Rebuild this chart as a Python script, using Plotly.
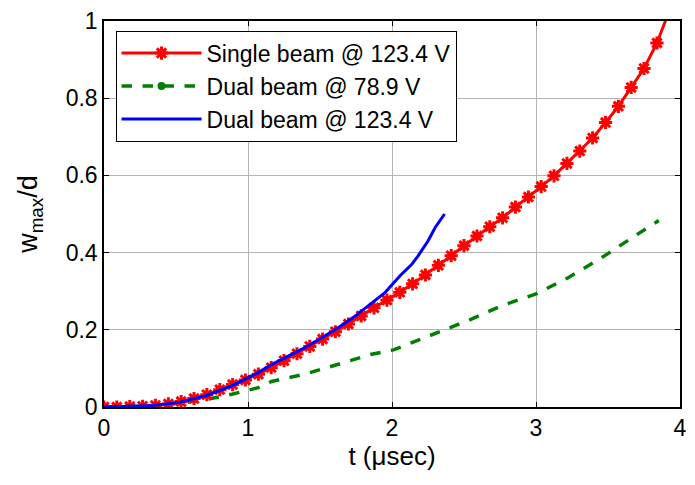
import plotly.graph_objects as go

red_x = [0.000, 0.089, 0.179, 0.268, 0.357, 0.447, 0.536, 0.625, 0.714, 0.804,
         0.893, 0.982, 1.072, 1.161, 1.250, 1.340, 1.429, 1.518, 1.607, 1.697,
         1.786, 1.875, 1.965, 2.054, 2.143, 2.232, 2.322, 2.411, 2.500, 2.590,
         2.679, 2.768, 2.857, 2.947, 3.036, 3.125, 3.215, 3.304, 3.393, 3.483,
         3.572, 3.661, 3.750, 3.840, 3.929]
red_y = [0.000, 0.000, 0.001, 0.002, 0.004, 0.008, 0.014, 0.022, 0.032, 0.045,
         0.058, 0.070, 0.085, 0.102, 0.120, 0.138, 0.157, 0.176, 0.195, 0.215,
         0.236, 0.257, 0.277, 0.297, 0.319, 0.342, 0.367, 0.392, 0.418, 0.443,
         0.467, 0.490, 0.518, 0.544, 0.571, 0.599, 0.631, 0.663, 0.697, 0.737,
         0.779, 0.828, 0.877, 0.943, 1.030]

green_x = [0.0, 0.339, 0.522, 0.705, 0.888, 1.071, 1.163, 1.392, 1.621, 1.850,
           2.010, 2.193, 2.308, 2.536, 2.766, 3.000, 3.223, 3.453, 3.681, 3.853]
green_y = [0.0, 0.004, 0.010, 0.019, 0.033, 0.050, 0.066, 0.085, 0.110, 0.136,
           0.148, 0.174, 0.191, 0.225, 0.263, 0.293, 0.335, 0.386, 0.442, 0.483]

blue_x = [0.0, 0.339, 0.522, 0.705, 0.888, 1.071, 1.163, 1.277, 1.392, 1.506,
          1.621, 1.735, 1.873, 1.953, 2.056, 2.136, 2.180, 2.250, 2.300, 2.365]
blue_y = [0.0, 0.004, 0.012, 0.029, 0.055, 0.089, 0.110, 0.131, 0.153, 0.178,
          0.204, 0.233, 0.272, 0.297, 0.340, 0.369, 0.391, 0.430, 0.465, 0.500]

x_ticks = [0, 1, 2, 3, 4]
y_ticks = [0, 0.2, 0.4, 0.6, 0.8, 1]
y_tick_text = ["0", "0.2", "0.4", "0.6", "0.8", "1"]

FONT = "Liberation Sans, Arial, sans-serif"

fig = go.Figure()

fig.add_trace(go.Scatter(
    x=green_x, y=green_y, mode="lines", showlegend=False,
    line=dict(color="#008000", width=3.5, dash="dash"),
))
fig.add_trace(go.Scatter(
    x=red_x, y=red_y, mode="lines+markers", name="Single beam @ 123.4 V",
    line=dict(color="#ff0000", width=3),
    marker=dict(symbol="asterisk-open", size=11, color="#ff0000",
                line=dict(color="#ff0000", width=3)),
))
fig.add_trace(go.Scatter(
    x=[None], y=[None], mode="lines+markers", name="Dual beam @ 78.9 V",
    line=dict(color="#008000", width=3.5, dash="dash"),
    marker=dict(symbol="circle", size=8, color="#008000"),
))
fig.add_trace(go.Scatter(
    x=blue_x, y=blue_y, mode="lines", name="Dual beam @ 123.4 V",
    line=dict(color="#0000ff", width=3),
))

axis_common = dict(
    showline=True, linecolor="black", linewidth=1.5, mirror="ticks",
    ticks="inside", ticklen=5, tickcolor="black",
    showgrid=True, gridcolor="#b4b4b4", gridwidth=1,
    zeroline=False,
    tickfont=dict(family=FONT, size=23, color="black"),
)

fig.update_xaxes(range=[0, 4], tickvals=x_ticks, ticktext=[str(v) for v in x_ticks],
                 title=dict(text="t (\u03bcsec)", font=dict(family=FONT, size=26, color="black"),
                            standoff=4),
                 **axis_common)
fig.update_yaxes(range=[0, 1], tickvals=y_ticks, ticktext=y_tick_text,
                 title=dict(text="w<sub>max</sub>/d", font=dict(family=FONT, size=27, color="black"),
                            standoff=20),
                 **axis_common)

fig.update_layout(
    width=695, height=485,
    margin=dict(l=104, r=8, t=15, b=78),
    paper_bgcolor="white", plot_bgcolor="white",
    legend=dict(x=0.02, y=0.975, xanchor="left", yanchor="top",
                bgcolor="white", bordercolor="black", borderwidth=1,
                font=dict(family=FONT, size=23, color="black"),
                itemwidth=80, tracegroupgap=0),
)

fig.write_html("out.html")
